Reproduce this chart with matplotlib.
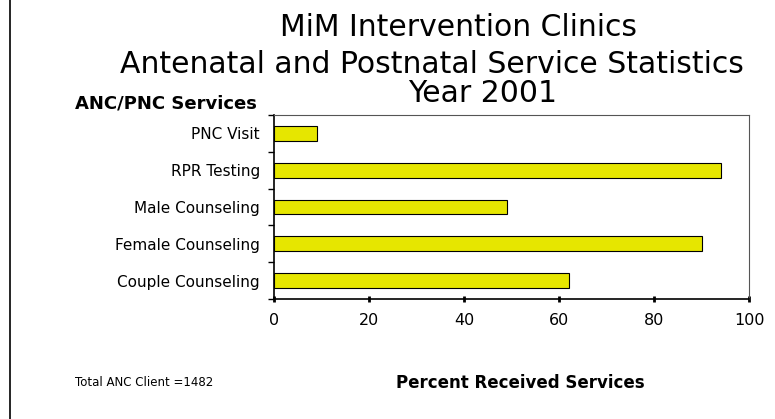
import matplotlib
matplotlib.use("Agg")
import matplotlib.pyplot as plt
import numpy as np

categories = ["Couple Counseling", "Female Counseling", "Male Counseling",
              "RPR Testing", "PNC Visit"]
percent = [62, 90, 49, 94, 9]
x_ticks = [0, 20, 40, 60, 80, 100]
total_clients = 1482

plt.rcParams['font.family'] = ['DejaVu Sans']

fig = plt.figure(figsize=(7.75, 4.19), dpi=100)
ax = fig.add_axes([0.3535, 0.2864, 0.613, 0.4391])

y = np.arange(len(categories))
ax.barh(y, percent, height=0.4, color='#e6e600', edgecolor='black', linewidth=0.8)

ax.set_xlim(0, 100)
ax.set_ylim(-0.5, len(categories) - 0.5)
ax.set_xticks(x_ticks)
ax.set_xticklabels([str(t) for t in x_ticks], fontsize=11.5)
ax.set_yticks(y)
ax.set_yticklabels(categories, fontsize=11)
ax.tick_params(axis='y', which='major', length=0, pad=10)
ax.set_yticks(np.arange(len(categories) + 1) - 0.5, minor=True)
ax.tick_params(axis='y', which='minor', length=4, width=1, direction='out')
ax.tick_params(axis='x', length=4, width=2, direction='inout', pad=8)

for side in ['top', 'right']:
    ax.spines[side].set_color('#555555')
    ax.spines[side].set_linewidth(0.8)
ax.spines['left'].set_linewidth(1.2)
ax.spines['bottom'].set_linewidth(1.2)

# titles
fig.text(0.592, 0.934, "MiM Intervention Clinics", ha='center', va='center',
         fontsize=21.5)
fig.text(0.557, 0.846, "Antenatal and Postnatal Service Statistics", ha='center',
         va='center', fontsize=21.5)
fig.text(0.623, 0.778, "Year 2001", ha='center', va='center', fontsize=21.5)

fig.text(0.097, 0.754, "ANC/PNC Services", ha='left', va='center',
         fontsize=13, fontweight='bold')
fig.text(0.097, 0.086, "Total ANC Client =%d" % total_clients, ha='left',
         va='center', fontsize=8.5)
fig.text(0.511, 0.086, "Percent Received Services", ha='left', va='center',
         fontsize=12, fontweight='bold')

# left border line of the original frame
fig.add_artist(plt.Line2D([0.013, 0.013], [0, 1], color='black', linewidth=1.2))

fig.savefig("out.png", dpi=100)
